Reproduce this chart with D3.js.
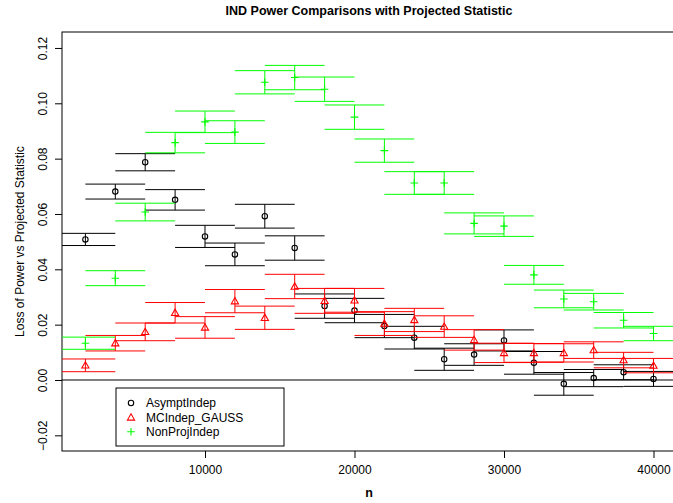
<!DOCTYPE html>
<html>
<head>
<meta charset="utf-8">
<script src="https://cdn.jsdelivr.net/npm/d3@7"></script>
<style>
  body { margin: 0; background: #fff; }
  svg text { font-family: "Liberation Sans", Arial, sans-serif; }
</style>
</head>
<body>
<div id="chart"></div>
<script>
// sample sizes
var nValues = [2000, 4000, 6000, 8000, 10000, 12000, 14000, 16000, 18000, 20000,
               22000, 24000, 26000, 28000, 30000, 32000, 34000, 36000, 38000, 40000];

// loss of power, with half-width of the interval
var asymptIndep = [0.0508, 0.0681, 0.0787, 0.0651, 0.0519, 0.0454, 0.0592, 0.0477, 0.0267, 0.0251,
                   0.0195, 0.0153, 0.0075, 0.0092, 0.0143, 0.0062, -0.0014, 0.0007, 0.0028, 0.0004];
var asymptErr = [0.0022, 0.0027, 0.0031, 0.0037, 0.0040, 0.0041, 0.0043, 0.0044, 0.0044, 0.0044,
                 0.0042, 0.0041, 0.0040, 0.0039, 0.0038, 0.0041, 0.0041, 0.0031, 0.0027, 0.0027];

var mcIndepGauss = [0.0053, 0.0133, 0.0174, 0.0243, 0.0190, 0.0285, 0.0225, 0.0338, 0.0286, 0.0288,
                    0.0204, 0.0217, 0.0193, 0.0145, 0.0098, 0.0098, 0.0098, 0.0108, 0.0072, 0.0052];
var mcErr = [0.0023, 0.0028, 0.0032, 0.0037, 0.0039, 0.0042, 0.0042, 0.0044, 0.0045, 0.0043,
             0.0043, 0.0042, 0.0039, 0.0037, 0.0035, 0.0034, 0.0033, 0.0030, 0.0028, 0.0026];

var nonProjIndep = [0.0133, 0.0368, 0.0607, 0.0858, 0.0933, 0.0896, 0.1076, 0.1093, 0.1051, 0.0950,
                    0.0829, 0.0712, 0.0712, 0.0566, 0.0556, 0.0380, 0.0293, 0.0283, 0.0216, 0.0168];
var nonProjErr = [0.0022, 0.0027, 0.0032, 0.0037, 0.0039, 0.0041, 0.0042, 0.0044, 0.0044, 0.0044,
                  0.0042, 0.0041, 0.0041, 0.0038, 0.0037, 0.0034, 0.0032, 0.0030, 0.0028, 0.0026];

var seriesNames = ["AsymptIndep", "MCIndep_GAUSS", "NonProjIndep"];
var seriesColors = ["#000000", "#ff0000", "#00ff00"];
var seriesShapes = ["circle", "triangle", "plus"];

var xTicks = [10000, 20000, 30000, 40000];
var yTicks = [-0.02, 0, 0.02, 0.04, 0.06, 0.08, 0.10, 0.12];

var capHalf = 2000;

var width = 673, height = 503;
var plot = {left: 62, right: 676, top: 32, bottom: 451};

var svg = d3.select('#chart').append('svg')
    .attr('width', width)
    .attr('height', height);

var xScale = d3.scaleLinear().domain([435, 41505]).range([plot.left, plot.right]);
var yScale = d3.scaleLinear().domain([-0.02566, 0.12577]).range([plot.bottom, plot.top]);

svg.append('defs').append('clipPath').attr('id', 'clip')
  .append('rect')
    .attr('x', plot.left).attr('y', plot.top)
    .attr('width', plot.right - plot.left).attr('height', plot.bottom - plot.top);

// title
svg.append('text')
    .attr('x', (plot.left + plot.right) / 2)
    .attr('y', 15)
    .attr('text-anchor', 'middle')
    .style('font-size', '12.5px')
    .style('font-weight', 'bold')
    .text('IND Power Comparisons with Projected Statistic');

// x axis
var xAxis = d3.axisBottom(xScale).tickValues(xTicks).tickSize(7).tickPadding(7)
    .tickFormat(d3.format('d'));
var gx = svg.append('g')
    .attr('transform', `translate(0,${plot.bottom})`)
    .call(xAxis);
gx.select('.domain').remove();
gx.selectAll('text').style('font-size', '12px').attr('fill', '#000');

// y axis, labels rotated like R
var yAxis = d3.axisLeft(yScale).tickValues(yTicks).tickSize(7)
    .tickFormat(function(d) { return d3.format('.2f')(d).replace('-', '\u2212'); });
var gy = svg.append('g')
    .attr('transform', `translate(${plot.left},0)`)
    .call(yAxis);
gy.select('.domain').remove();
gy.selectAll('text')
    .attr('x', null).attr('dy', null)
    .attr('text-anchor', 'middle')
    .attr('transform', 'translate(-15,0) rotate(-90)')
    .style('font-size', '12px')
    .attr('fill', '#000');

// box
svg.append('rect')
    .attr('x', plot.left).attr('y', plot.top)
    .attr('width', plot.right - plot.left).attr('height', plot.bottom - plot.top)
    .attr('fill', 'none').attr('stroke', '#000');

// axis titles
svg.append('text')
    .attr('x', (plot.left + plot.right) / 2)
    .attr('y', 497)
    .attr('text-anchor', 'middle')
    .style('font-size', '12.5px')
    .style('font-weight', 'bold')
    .text('n');

svg.append('text')
    .attr('transform', `translate(24,${(plot.top + plot.bottom) / 2}) rotate(-90)`)
    .attr('text-anchor', 'middle')
    .style('font-size', '12px')
    .text('Loss of Power vs Projected Statistic');

var marks = svg.append('g').attr('clip-path', 'url(#clip)');

// zero line
marks.append('line')
    .attr('x1', plot.left).attr('x2', plot.right)
    .attr('y1', yScale(0)).attr('y2', yScale(0))
    .attr('stroke', '#000');

function symbol(g, shape, color, cx, cy) {
  if (shape === 'circle') {
    g.append('circle').attr('cx', cx).attr('cy', cy).attr('r', 2.7)
      .attr('fill', 'none').attr('stroke', color).attr('stroke-width', 1.1);
  } else if (shape === 'triangle') {
    var s = 3.6;
    g.append('path')
      .attr('d', `M${cx},${cy - s} L${cx + s},${cy + s * 0.75} L${cx - s},${cy + s * 0.75} Z`)
      .attr('fill', 'none').attr('stroke', color).attr('stroke-width', 1.1);
  } else {
    var a = 3.8;
    g.append('path')
      .attr('d', `M${cx - a},${cy} H${cx + a} M${cx},${cy - a} V${cy + a}`)
      .attr('stroke', color).attr('stroke-width', 1.1);
  }
}

var allValues = [asymptIndep, mcIndepGauss, nonProjIndep];
var allErrs = [asymptErr, mcErr, nonProjErr];

allValues.forEach(function(vals, s) {
  var color = seriesColors[s];
  var g = marks.append('g');
  var rows = nValues.map(function(n, i) { return {n: n, v: vals[i], e: allErrs[s][i]}; });

  g.selectAll('path.bar')
    .data(rows)
    .enter()
    .append('path')
    .attr('class', 'bar')
    .attr('fill', 'none')
    .attr('stroke', color)
    .attr('d', function(d) {
      var x = xScale(d.n), lo = yScale(d.v - d.e), hi = yScale(d.v + d.e);
      var xl = xScale(d.n - capHalf), xr = xScale(d.n + capHalf);
      return `M${x},${lo} V${hi} M${xl},${hi} H${xr} M${xl},${lo} H${xr}`;
    });

  rows.forEach(function(d) {
    symbol(g, seriesShapes[s], color, xScale(d.n), yScale(d.v));
  });
});

// legend
var legend = svg.append('g');
legend.append('rect')
    .attr('x', 116).attr('y', 388)
    .attr('width', 168).attr('height', 58)
    .attr('fill', '#fff').attr('stroke', '#000');

seriesNames.forEach(function(name, i) {
  var y = 403 + i * 14.4;
  symbol(legend, seriesShapes[i], seriesColors[i], 131, y);
  legend.append('text')
    .attr('x', 146).attr('y', y + 4.3)
    .style('font-size', '12px')
    .text(name);
});
</script>
</body>
</html>
